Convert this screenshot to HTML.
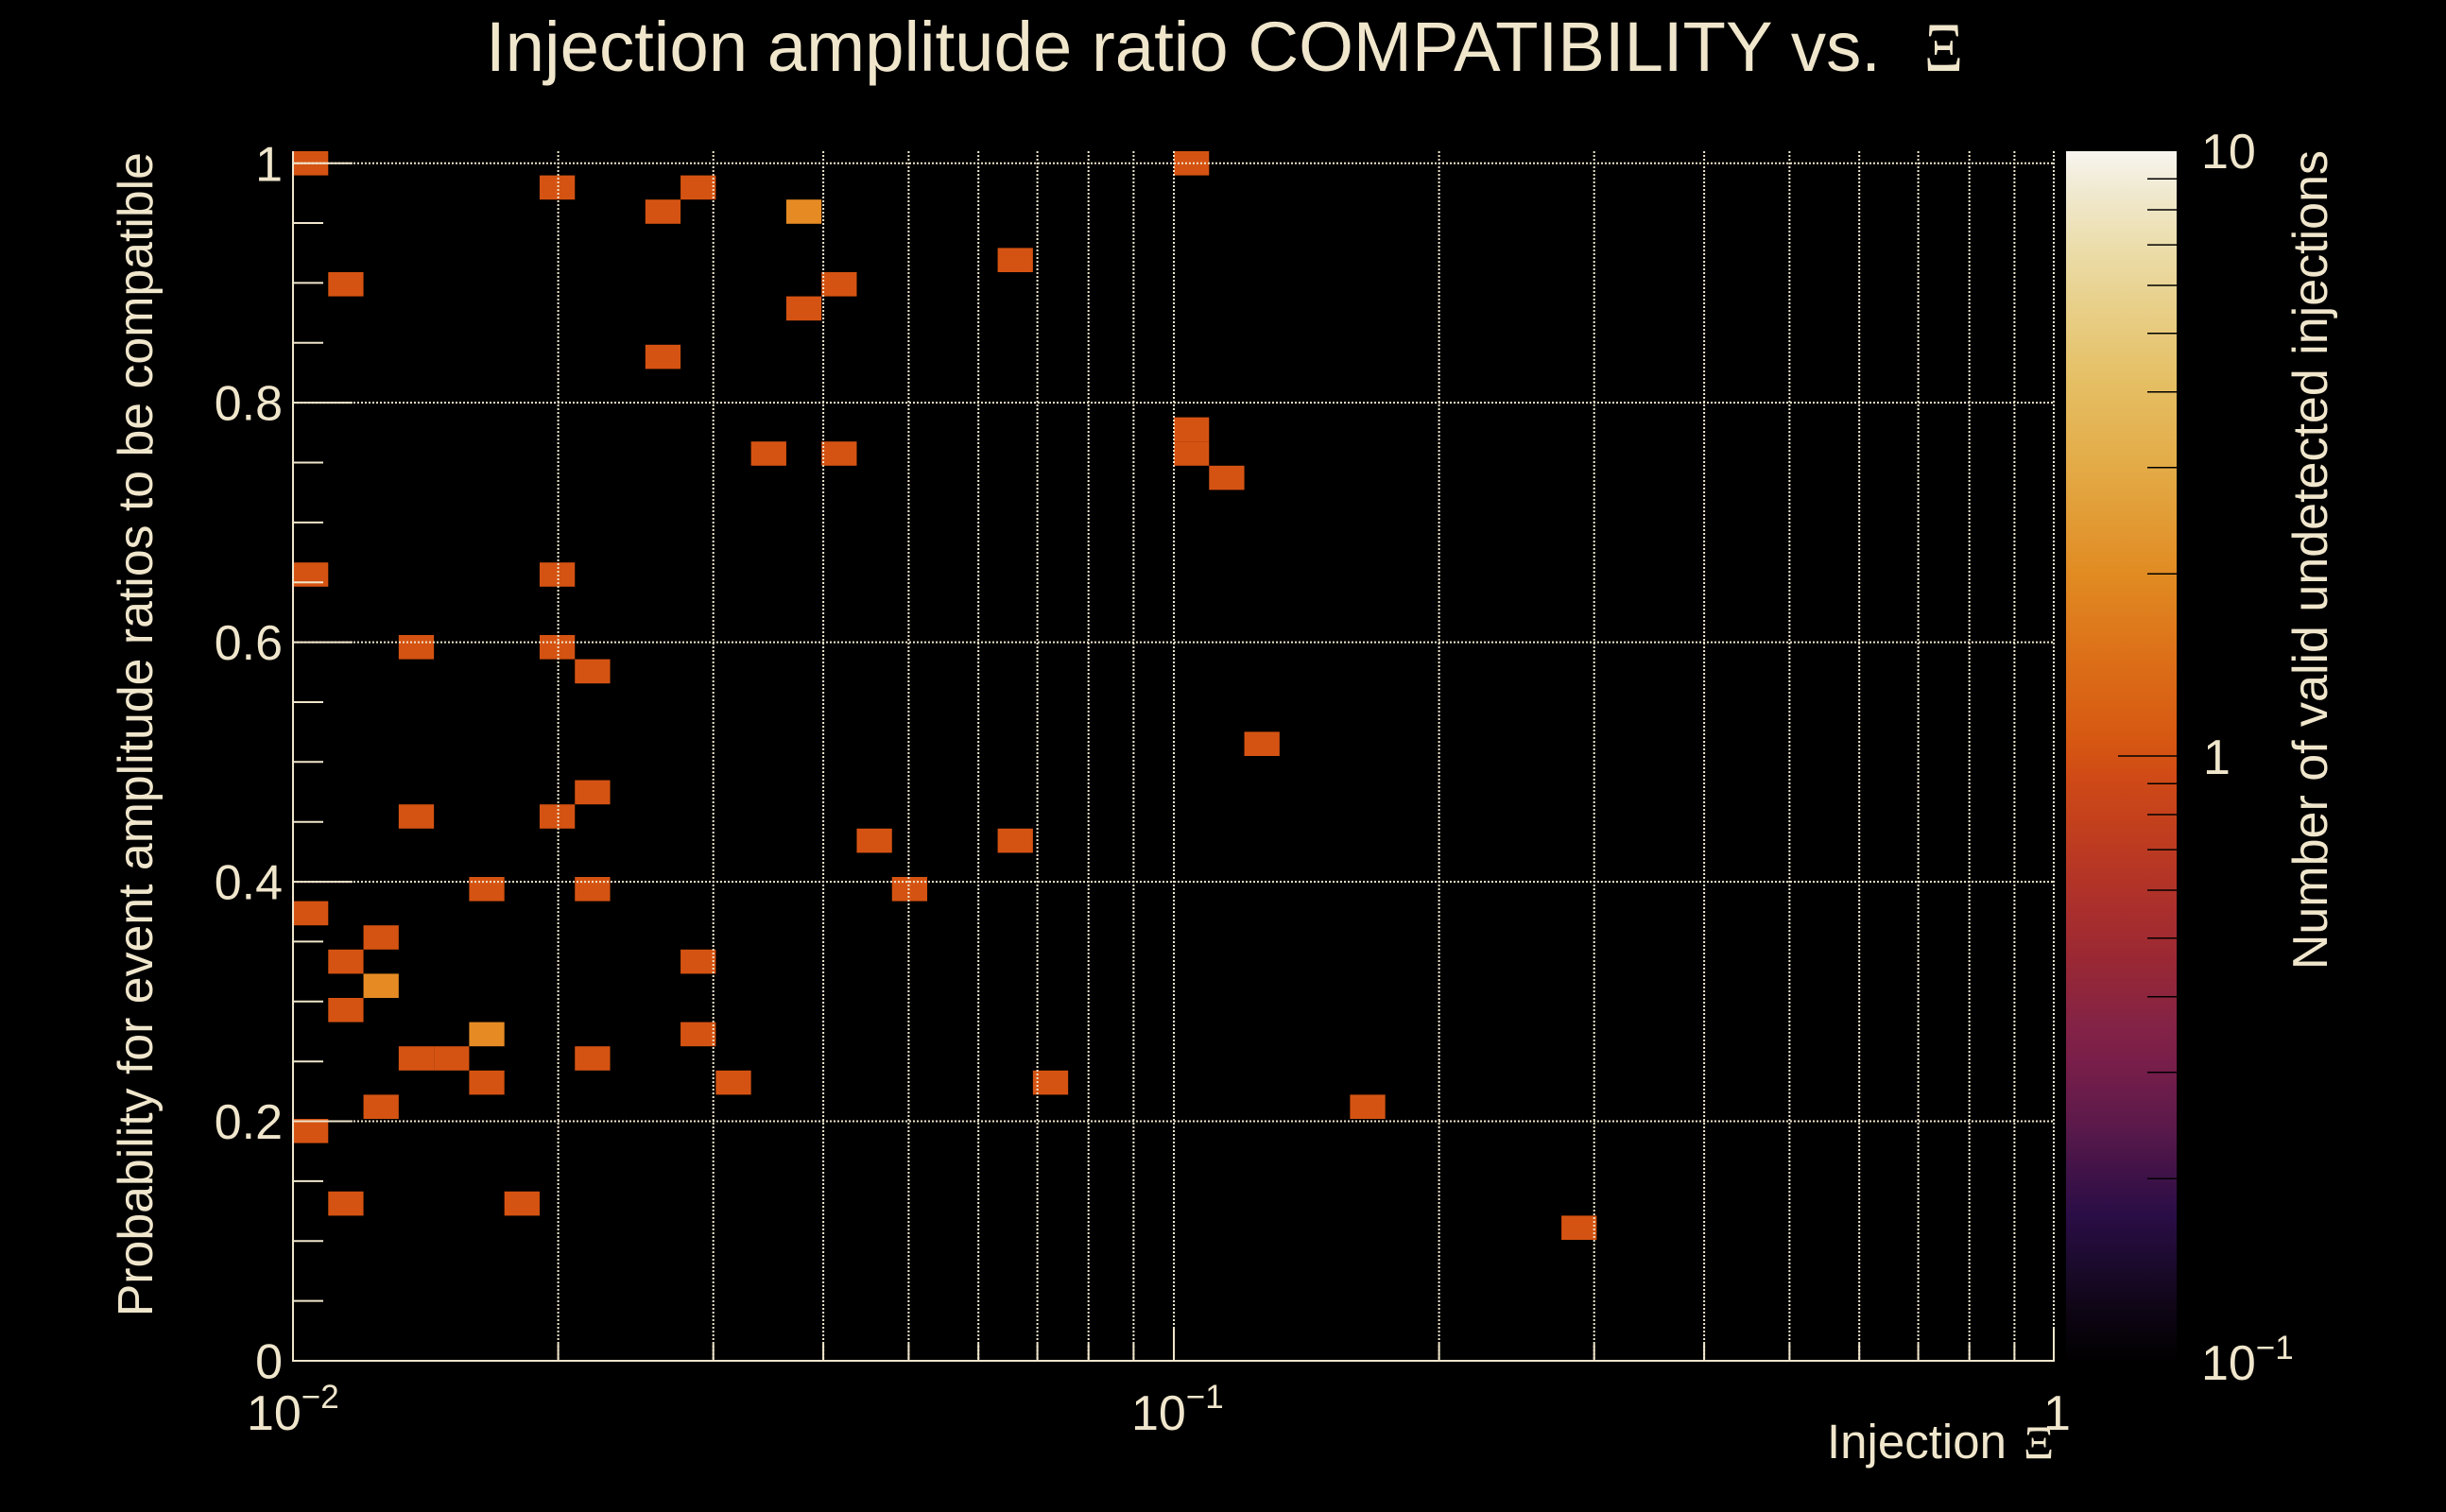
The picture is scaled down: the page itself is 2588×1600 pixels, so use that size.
<!DOCTYPE html>
<html>
<head>
<meta charset="utf-8">
<style>
  html, body { margin: 0; padding: 0; background: #000; }
  svg { display: block; }
  text { font-family: "Liberation Sans", "DejaVu Sans", sans-serif; fill: #F0E6CC; }
  .serif { font-family: "Liberation Serif", "DejaVu Serif", serif; }
</style>
</head>
<body>
<svg width="2588" height="1600" viewBox="0 0 2588 1600" xmlns="http://www.w3.org/2000/svg">
  <defs>
    <linearGradient id="pal" x1="0" y1="0" x2="0" y2="1">
      <stop offset="0" stop-color="#F7F5EF"/>
      <stop offset="0.03" stop-color="#F1EAD3"/>
      <stop offset="0.08" stop-color="#EBDDAA"/>
      <stop offset="0.13" stop-color="#E8CF88"/>
      <stop offset="0.19" stop-color="#E5BF64"/>
      <stop offset="0.26" stop-color="#E3AB47"/>
      <stop offset="0.35" stop-color="#E18B22"/>
      <stop offset="0.42" stop-color="#DC6F18"/>
      <stop offset="0.48" stop-color="#D75A12"/>
      <stop offset="0.5" stop-color="#D45213"/>
      <stop offset="0.518" stop-color="#CF4A16"/>
      <stop offset="0.577" stop-color="#BC3A21"/>
      <stop offset="0.62" stop-color="#AD302B"/>
      <stop offset="0.67" stop-color="#992834"/>
      <stop offset="0.721" stop-color="#842345"/>
      <stop offset="0.755" stop-color="#781E4A"/>
      <stop offset="0.806" stop-color="#5B1A4B"/>
      <stop offset="0.84" stop-color="#431348"/>
      <stop offset="0.88" stop-color="#2A0D46"/>
      <stop offset="0.925" stop-color="#1A0A2A"/>
      <stop offset="0.959" stop-color="#0E0514"/>
      <stop offset="1" stop-color="#010001"/>
    </linearGradient>
  </defs>

  <rect x="0" y="0" width="2588" height="1600" fill="#000"/>

  <text x="514" y="75" font-size="74.4">Injection amplitude ratio COMPATIBILITY vs.</text>
  <text class="serif" transform="translate(2036,75) scale(0.86,1)" font-size="74">Ξ</text>

  <g fill="#D55312">
    <rect x="310" y="160" width="37.28" height="25.6"/>
    <rect x="570.96" y="185.6" width="37.28" height="25.6"/>
    <rect x="720.08" y="185.6" width="37.28" height="25.6"/>
    <rect x="682.8" y="211.2" width="37.28" height="25.6"/>
    <rect x="347.28" y="288" width="37.28" height="25.6"/>
    <rect x="869.2" y="288" width="37.28" height="25.6"/>
    <rect x="831.92" y="313.6" width="37.28" height="25.6"/>
    <rect x="1055.6" y="262.4" width="37.28" height="25.6"/>
    <rect x="682.8" y="364.8" width="37.28" height="25.6"/>
    <rect x="1242" y="160" width="37.28" height="25.6"/>
    <rect x="794.64" y="467.2" width="37.28" height="25.6"/>
    <rect x="869.2" y="467.2" width="37.28" height="25.6"/>
    <rect x="1242" y="441.6" width="37.28" height="25.6"/>
    <rect x="1242" y="467.2" width="37.28" height="25.6"/>
    <rect x="1279.28" y="492.8" width="37.28" height="25.6"/>
    <rect x="310" y="595.2" width="37.28" height="25.6"/>
    <rect x="570.96" y="595.2" width="37.28" height="25.6"/>
    <rect x="421.84" y="672" width="37.28" height="25.6"/>
    <rect x="570.96" y="672" width="37.28" height="25.6"/>
    <rect x="608.24" y="697.6" width="37.28" height="25.6"/>
    <rect x="1316.56" y="774.4" width="37.28" height="25.6"/>
    <rect x="608.24" y="825.6" width="37.28" height="25.6"/>
    <rect x="421.84" y="851.2" width="37.28" height="25.6"/>
    <rect x="570.96" y="851.2" width="37.28" height="25.6"/>
    <rect x="906.48" y="876.8" width="37.28" height="25.6"/>
    <rect x="1055.6" y="876.8" width="37.28" height="25.6"/>
    <rect x="496.4" y="928" width="37.28" height="25.6"/>
    <rect x="608.24" y="928" width="37.28" height="25.6"/>
    <rect x="943.76" y="928" width="37.28" height="25.6"/>
    <rect x="310" y="953.6" width="37.28" height="25.6"/>
    <rect x="384.56" y="979.2" width="37.28" height="25.6"/>
    <rect x="347.28" y="1004.8" width="37.28" height="25.6"/>
    <rect x="720.08" y="1004.8" width="37.28" height="25.6"/>
    <rect x="347.28" y="1056" width="37.28" height="25.6"/>
    <rect x="720.08" y="1081.6" width="37.28" height="25.6"/>
    <rect x="421.84" y="1107.2" width="37.28" height="25.6"/>
    <rect x="459.12" y="1107.2" width="37.28" height="25.6"/>
    <rect x="608.24" y="1107.2" width="37.28" height="25.6"/>
    <rect x="496.4" y="1132.8" width="37.28" height="25.6"/>
    <rect x="757.36" y="1132.8" width="37.28" height="25.6"/>
    <rect x="1092.88" y="1132.8" width="37.28" height="25.6"/>
    <rect x="384.56" y="1158.4" width="37.28" height="25.6"/>
    <rect x="1428.4" y="1158.4" width="37.28" height="25.6"/>
    <rect x="310" y="1184" width="37.28" height="25.6"/>
    <rect x="347.28" y="1260.8" width="37.28" height="25.6"/>
    <rect x="533.68" y="1260.8" width="37.28" height="25.6"/>
    <rect x="1652.08" y="1286.4" width="37.28" height="25.6"/>
  </g>
  <g fill="#E68B24">
    <rect x="831.92" y="211.2" width="37.28" height="25.6"/>
    <rect x="384.56" y="1030.4" width="37.28" height="25.6"/>
    <rect x="496.4" y="1081.6" width="37.28" height="25.6"/>
  </g>

  <g stroke="#F0E6CC" stroke-width="2" stroke-dasharray="2 2" fill="none">
    <line x1="590.6" y1="160" x2="590.6" y2="1440"/>
    <line x1="754.7" y1="160" x2="754.7" y2="1440"/>
    <line x1="871.1" y1="160" x2="871.1" y2="1440"/>
    <line x1="961.4" y1="160" x2="961.4" y2="1440"/>
    <line x1="1035.2" y1="160" x2="1035.2" y2="1440"/>
    <line x1="1097.6" y1="160" x2="1097.6" y2="1440"/>
    <line x1="1151.7" y1="160" x2="1151.7" y2="1440"/>
    <line x1="1199.4" y1="160" x2="1199.4" y2="1440"/>
    <line x1="1242" y1="160" x2="1242" y2="1440"/>
    <line x1="1522.6" y1="160" x2="1522.6" y2="1440"/>
    <line x1="1686.7" y1="160" x2="1686.7" y2="1440"/>
    <line x1="1803.1" y1="160" x2="1803.1" y2="1440"/>
    <line x1="1893.4" y1="160" x2="1893.4" y2="1440"/>
    <line x1="1967.2" y1="160" x2="1967.2" y2="1440"/>
    <line x1="2029.6" y1="160" x2="2029.6" y2="1440"/>
    <line x1="2083.7" y1="160" x2="2083.7" y2="1440"/>
    <line x1="2131.4" y1="160" x2="2131.4" y2="1440"/>
    <line x1="2173" y1="160" x2="2173" y2="1440"/>
    <line x1="310" y1="1186.5" x2="2174" y2="1186.5"/>
    <line x1="310" y1="933.1" x2="2174" y2="933.1"/>
    <line x1="310" y1="679.6" x2="2174" y2="679.6"/>
    <line x1="310" y1="426.1" x2="2174" y2="426.1"/>
    <line x1="310" y1="172.7" x2="2174" y2="172.7"/>
  </g>

  <g stroke="#F0E6CC" stroke-width="2" fill="none">
    <line x1="310" y1="160" x2="310" y2="1441"/>
    <line x1="309" y1="1440" x2="2174" y2="1440"/>
    <line x1="310" y1="1186.5" x2="373" y2="1186.5"/>
    <line x1="310" y1="933.1" x2="373" y2="933.1"/>
    <line x1="310" y1="679.6" x2="373" y2="679.6"/>
    <line x1="310" y1="426.1" x2="373" y2="426.1"/>
    <line x1="310" y1="172.7" x2="373" y2="172.7"/>
    <line x1="310" y1="1376.6" x2="342" y2="1376.6"/>
    <line x1="310" y1="1313.3" x2="342" y2="1313.3"/>
    <line x1="310" y1="1249.9" x2="342" y2="1249.9"/>
    <line x1="310" y1="1123.2" x2="342" y2="1123.2"/>
    <line x1="310" y1="1059.8" x2="342" y2="1059.8"/>
    <line x1="310" y1="996.4" x2="342" y2="996.4"/>
    <line x1="310" y1="869.7" x2="342" y2="869.7"/>
    <line x1="310" y1="806.3" x2="342" y2="806.3"/>
    <line x1="310" y1="743.0" x2="342" y2="743.0"/>
    <line x1="310" y1="616.2" x2="342" y2="616.2"/>
    <line x1="310" y1="552.9" x2="342" y2="552.9"/>
    <line x1="310" y1="489.5" x2="342" y2="489.5"/>
    <line x1="310" y1="362.8" x2="342" y2="362.8"/>
    <line x1="310" y1="299.4" x2="342" y2="299.4"/>
    <line x1="310" y1="236.0" x2="342" y2="236.0"/>
    <line x1="310" y1="1440" x2="310" y2="1405"/>
    <line x1="1242" y1="1440" x2="1242" y2="1405"/>
    <line x1="2173" y1="1440" x2="2173" y2="1405"/>
    <line x1="590.6" y1="1440" x2="590.6" y2="1422"/>
    <line x1="754.7" y1="1440" x2="754.7" y2="1422"/>
    <line x1="871.1" y1="1440" x2="871.1" y2="1422"/>
    <line x1="961.4" y1="1440" x2="961.4" y2="1422"/>
    <line x1="1035.2" y1="1440" x2="1035.2" y2="1422"/>
    <line x1="1097.6" y1="1440" x2="1097.6" y2="1422"/>
    <line x1="1151.7" y1="1440" x2="1151.7" y2="1422"/>
    <line x1="1199.4" y1="1440" x2="1199.4" y2="1422"/>
    <line x1="1522.6" y1="1440" x2="1522.6" y2="1422"/>
    <line x1="1686.7" y1="1440" x2="1686.7" y2="1422"/>
    <line x1="1803.1" y1="1440" x2="1803.1" y2="1422"/>
    <line x1="1893.4" y1="1440" x2="1893.4" y2="1422"/>
    <line x1="1967.2" y1="1440" x2="1967.2" y2="1422"/>
    <line x1="2029.6" y1="1440" x2="2029.6" y2="1422"/>
    <line x1="2083.7" y1="1440" x2="2083.7" y2="1422"/>
    <line x1="2131.4" y1="1440" x2="2131.4" y2="1422"/>
  </g>

  <g font-size="52" text-anchor="end">
    <text x="299" y="1458.6">0</text>
    <text x="299" y="1205.1">0.2</text>
    <text x="299" y="951.7">0.4</text>
    <text x="299" y="698.2">0.6</text>
    <text x="299" y="444.7">0.8</text>
    <text x="299" y="191.3">1</text>
  </g>

  <g font-size="52">
    <text x="261" y="1513">10<tspan font-size="35" dy="-23">−2</tspan></text>
    <text x="1197" y="1513">10<tspan font-size="35" dy="-23">−1</tspan></text>
    <text x="2162" y="1513">1</text>
  </g>

  <text x="1933" y="1543" font-size="51">Injection</text>
  <text class="serif" x="2141" y="1543" font-size="50">Ξ</text>

  <text transform="translate(161,161) rotate(-90)" font-size="51.8" text-anchor="end">Probability for event amplitude ratios to be compatible</text>

  <rect x="2186" y="160" width="117" height="1280" fill="url(#pal)"/>
  <g stroke="#000" stroke-width="1.5">
    <line x1="2241" y1="800" x2="2303" y2="800"/>
    <line x1="2272" y1="1247.3" x2="2303" y2="1247.3"/>
    <line x1="2272" y1="1134.7" x2="2303" y2="1134.7"/>
    <line x1="2272" y1="1054.7" x2="2303" y2="1054.7"/>
    <line x1="2272" y1="992.7" x2="2303" y2="992.7"/>
    <line x1="2272" y1="942.0" x2="2303" y2="942.0"/>
    <line x1="2272" y1="899.1" x2="2303" y2="899.1"/>
    <line x1="2272" y1="862.0" x2="2303" y2="862.0"/>
    <line x1="2272" y1="829.3" x2="2303" y2="829.3"/>
    <line x1="2272" y1="607.3" x2="2303" y2="607.3"/>
    <line x1="2272" y1="494.7" x2="2303" y2="494.7"/>
    <line x1="2272" y1="414.7" x2="2303" y2="414.7"/>
    <line x1="2272" y1="352.7" x2="2303" y2="352.7"/>
    <line x1="2272" y1="302.0" x2="2303" y2="302.0"/>
    <line x1="2272" y1="259.1" x2="2303" y2="259.1"/>
    <line x1="2272" y1="222.0" x2="2303" y2="222.0"/>
    <line x1="2272" y1="189.3" x2="2303" y2="189.3"/>
  </g>

  <g font-size="52">
    <text x="2329" y="178">10</text>
    <text x="2331" y="819">1</text>
    <text x="2329" y="1460">10<tspan font-size="35" dy="-22">−1</tspan></text>
  </g>

  <text transform="translate(2462,159) rotate(-90)" font-size="52" text-anchor="end">Number of valid undetected injections</text>
</svg>
</body>
</html>
